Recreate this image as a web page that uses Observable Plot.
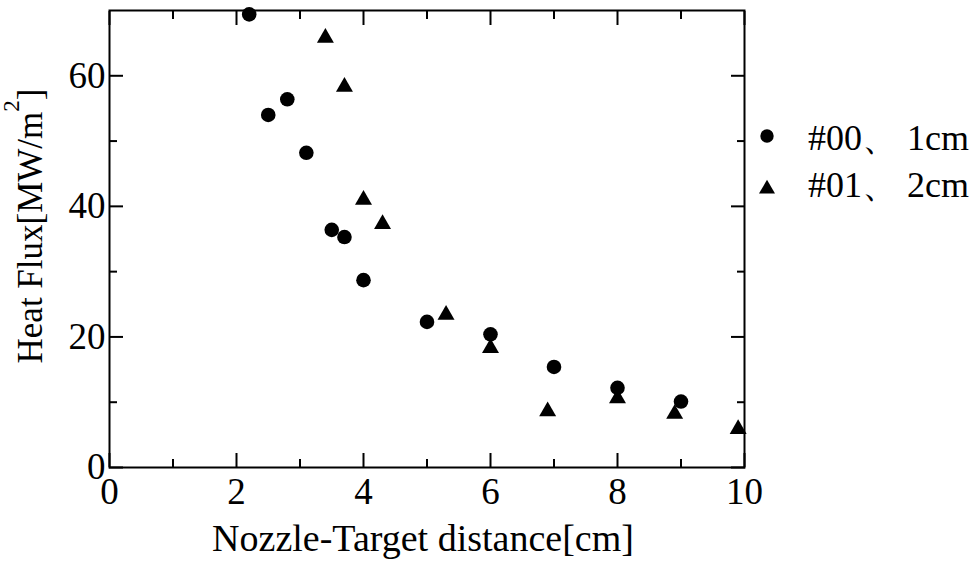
<!DOCTYPE html>
<html>
<head>
<meta charset="utf-8">
<script src="https://cdn.jsdelivr.net/npm/d3@7"></script>
<script src="https://cdn.jsdelivr.net/npm/@observablehq/plot@0.6"></script>
<style>
  body { margin: 0; background: #fff; }
  #chart { width: 980px; height: 566px; }
</style>
</head>
<body>
<div id="chart"></div>
<script>
// Nozzle #00 (1 cm): distance [cm] and heat flux [MW/m²]
const distance00 = [2.2, 2.5, 2.8, 3.1, 3.5, 3.7, 4.0, 5.0, 6.0, 7.0, 8.0, 9.0];
const heatFlux00 = [69.4, 54.0, 56.4, 48.2, 36.4, 35.3, 28.7, 22.3, 20.4, 15.4, 12.2, 10.1];

// Nozzle #01 (2 cm)
const distance01 = [3.4, 3.7, 4.0, 4.3, 5.3, 6.0, 6.9, 8.0, 8.9, 9.9];
const heatFlux01 = [65.8, 58.3, 41.0, 37.3, 23.4, 18.3, 8.6, 10.6, 8.2, 5.9];

const seriesLabels = ["#00、 1cm", "#01、 2cm"];

const xMajorTicks = [0, 2, 4, 6, 8, 10];
const xMinorTicks = [1, 3, 5, 7, 9];
const yMajorTicks = [0, 20, 40, 60];
const yMinorTicks = [10, 30, 50];

const xTitle = "Nozzle-Target distance[cm]";
const yTitle = ["Heat Flux[MW/m", "2", "]"];

const rows00 = distance00.map((d, i) => ({distance: d, flux: heatFlux00[i]}));
const rows01 = distance01.map((d, i) => ({distance: d, flux: heatFlux01[i]}));

const W = 980, H = 566;
const margin = {left: 109, right: 236, top: 10, bottom: 99};
const MAJOR = 14, MINOR = 8;
const noText = () => "";
const font = "'Liberation Serif', 'Times New Roman', serif";

const tickAxis = (fn, anchor, ticks, size) =>
  fn({anchor, ticks, tickSize: -size, tickFormat: noText, label: null, strokeWidth: 2});

const svg = Plot.plot({
  width: W,
  height: H,
  marginLeft: margin.left,
  marginRight: margin.right,
  marginTop: margin.top,
  marginBottom: margin.bottom,
  style: {fontFamily: font, fontSize: "37px", color: "#000", background: "#fff"},
  x: {domain: [0, 10]},
  y: {domain: [0, 70]},
  marks: [
    // inward ticks on all four sides
    tickAxis(Plot.axisX, "bottom", xMajorTicks, MAJOR),
    tickAxis(Plot.axisX, "bottom", xMinorTicks, MINOR),
    tickAxis(Plot.axisX, "top", xMajorTicks, MAJOR),
    tickAxis(Plot.axisX, "top", xMinorTicks, MINOR),
    tickAxis(Plot.axisY, "left", yMajorTicks, MAJOR),
    tickAxis(Plot.axisY, "left", yMinorTicks, MINOR),
    tickAxis(Plot.axisY, "right", yMajorTicks, MAJOR),
    tickAxis(Plot.axisY, "right", yMinorTicks, MINOR),
    // tick labels
    Plot.axisX({anchor: "bottom", ticks: xMajorTicks, tickSize: 0, tickPadding: 10, label: null}),
    Plot.axisY({anchor: "left", ticks: yMajorTicks, tickSize: 0, tickPadding: 4, label: null}),
    Plot.frame({stroke: "#000", strokeWidth: 2}),
    Plot.dot(rows00, {x: "distance", y: "flux", symbol: "circle", r: 7.3, fill: "#000", stroke: "none"}),
    Plot.dot(rows01, {x: "distance", y: "flux", symbol: "triangle", r: 6.3, fill: "#000", stroke: "none"})
  ]
});

document.getElementById("chart").appendChild(svg);

const root = d3.select(svg);

// x axis title
root.append("text")
  .attr("x", 423).attr("y", 551)
  .attr("text-anchor", "middle")
  .attr("font-family", font).attr("font-size", 38)
  .attr("fill", "#000")
  .text(xTitle);

// y axis title with superscript
const yt = root.append("text")
  .attr("transform", "translate(42,226) rotate(-90)")
  .attr("text-anchor", "middle")
  .attr("font-family", font).attr("font-size", 35)
  .attr("fill", "#000");
yt.append("tspan").text(yTitle[0]);
yt.append("tspan").attr("dy", -23).attr("font-size", 23).text(yTitle[1]);
yt.append("tspan").attr("dy", 23).text(yTitle[2]);

// legend
const legendSymbols = [
  {type: d3.symbolCircle, size: Math.PI * 6.7 * 6.7, cy: 136, baseline: 150},
  {type: d3.symbolTriangle, size: 111, cy: 189, baseline: 197}
];
const legend = root.append("g")
  .attr("font-family", font).attr("font-size", 36)
  .attr("text-anchor", "start");
legendSymbols.forEach((s, i) => {
  legend.append("path")
    .attr("transform", `translate(767,${s.cy})`)
    .attr("d", d3.symbol(s.type, s.size)())
    .attr("fill", "#000");
  legend.append("text")
    .attr("x", 808).attr("y", s.baseline)
    .attr("text-anchor", "start")
    .attr("fill", "#000")
    .text(seriesLabels[i]);
});
</script>
</body>
</html>
